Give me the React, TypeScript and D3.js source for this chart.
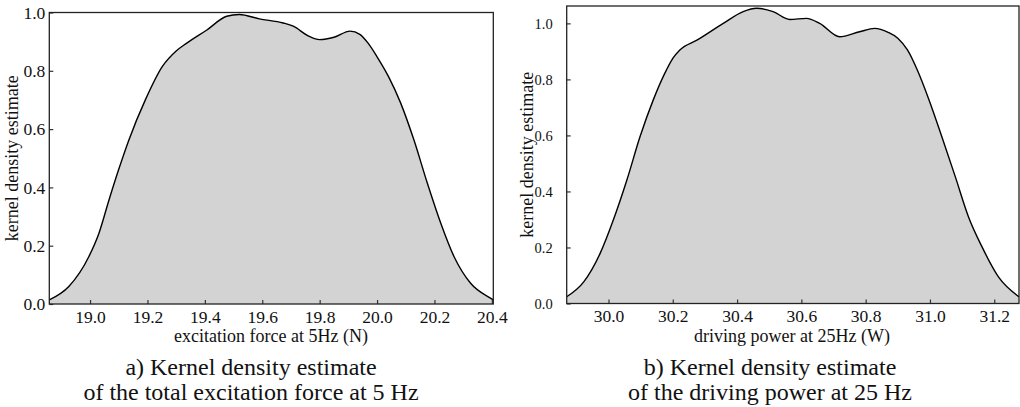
import React, { useRef, useEffect } from "react";
import * as d3 from "d3";

// panel a) total excitation force at 5 Hz
const forceX = [
  18.858, 18.926, 18.996, 19.031, 19.066, 19.1, 19.135, 19.193, 19.252, 19.3,
  19.337, 19.407, 19.476, 19.52, 19.59, 19.673, 19.708, 19.76, 19.8, 19.85,
  19.906, 19.94, 19.97, 20.0, 20.04, 20.082, 20.128, 20.175, 20.222, 20.268,
  20.326, 20.395, 20.405,
];
const forceDensity = [
  0.014, 0.06, 0.163, 0.243, 0.357, 0.462, 0.562, 0.701, 0.815, 0.868, 0.895,
  0.94, 0.987, 0.993, 0.978, 0.964, 0.953, 0.92, 0.907, 0.915, 0.936, 0.925,
  0.893, 0.848, 0.78, 0.69, 0.564, 0.415, 0.277, 0.163, 0.071, 0.02, 0.014,
];
const forceTicks = [19.0, 19.2, 19.4, 19.6, 19.8, 20.0, 20.2, 20.4];

// panel b) driving power at 25 Hz
const powerX = [
  29.87, 29.923, 29.974, 30.015, 30.057, 30.098, 30.139, 30.18, 30.2, 30.222,
  30.275, 30.357, 30.419, 30.461, 30.512, 30.564, 30.616, 30.657, 30.719,
  30.781, 30.828, 30.87, 30.9, 30.93, 30.96, 30.996, 31.037, 31.079, 31.12,
  31.162, 31.213, 31.277,
];
const powerDensity = [
  0.024, 0.077, 0.179, 0.298, 0.44, 0.595, 0.726, 0.833, 0.875, 0.905, 0.94,
  1.0, 1.042, 1.054, 1.042, 1.014, 1.018, 1.0, 0.952, 0.97, 0.982, 0.968,
  0.947, 0.905, 0.835, 0.73, 0.595, 0.452, 0.309, 0.202, 0.095, 0.024,
];
const powerTicks = [30.0, 30.2, 30.4, 30.6, 30.8, 31.0, 31.2];

const densityTicks = [0.0, 0.2, 0.4, 0.6, 0.8, 1.0];

const FONT = "'Liberation Serif', 'Times New Roman', serif";

function drawPanel(svg, p) {
  const x = d3.scaleLinear().domain(p.xDomain).range([p.left, p.right]);
  const y = d3.scaleLinear().domain(p.yDomain).range([p.bottom, p.top]);
  const pts = p.xs.map((v, i) => [v, p.ys[i]]);

  const g = svg.append("g");

  // filled density
  g.append("path")
    .datum(pts)
    .attr("fill", "#d3d3d3")
    .attr(
      "d",
      d3
        .area()
        .x((d) => x(d[0]))
        .y0(y(0))
        .y1((d) => y(d[1]))
        .curve(d3.curveMonotoneX)
    );
  g.append("path")
    .datum(pts)
    .attr("fill", "none")
    .attr("stroke", "#000")
    .attr("stroke-width", 1.4)
    .attr(
      "d",
      d3
        .line()
        .x((d) => x(d[0]))
        .y((d) => y(d[1]))
        .curve(d3.curveMonotoneX)
    );

  // axes, ticks pointing inwards
  const xa = g
    .append("g")
    .attr("transform", `translate(0,${p.bottom})`)
    .call(
      d3
        .axisBottom(x)
        .tickValues(p.xTicks)
        .tickFormat(d3.format(".1f"))
        .tickSizeInner(-4)
        .tickSizeOuter(0)
        .tickPadding(6.5)
    );
  const ya = g
    .append("g")
    .attr("transform", `translate(${p.left},0)`)
    .call(
      d3
        .axisLeft(y)
        .tickValues(densityTicks)
        .tickFormat(d3.format(".1f"))
        .tickSizeInner(-4)
        .tickSizeOuter(0)
        .tickPadding(p.yPad)
    );
  [xa, ya].forEach((a) => {
    a.select(".domain").remove();
    a.selectAll("line").attr("stroke", "#333").attr("stroke-width", 1.2);
    a.selectAll("text").attr("font-family", FONT).attr("fill", "#111");
  });
  xa.selectAll("text").attr("font-size", 17.5);
  ya.selectAll("text").attr("font-size", p.yFont);

  // frame
  g.append("rect")
    .attr("x", p.left)
    .attr("y", p.top)
    .attr("width", p.right - p.left)
    .attr("height", p.bottom - p.top)
    .attr("fill", "none")
    .attr("stroke", "#222")
    .attr("stroke-width", 1.3);

  // axis titles
  g.append("text")
    .attr("x", p.xTitleX)
    .attr("y", 341.5)
    .attr("text-anchor", "middle")
    .attr("font-family", FONT)
    .attr("font-size", 18)
    .attr("fill", "#111")
    .text(p.xTitle);
  g.append("text")
    .attr("transform", `translate(${p.yTitleX},${(p.top + p.bottom) / 2}) rotate(-90)`)
    .attr("text-anchor", "middle")
    .attr("font-family", FONT)
    .attr("font-size", 18)
    .attr("fill", "#111")
    .text("kernel density estimate");

  // caption
  p.caption.forEach((line, i) => {
    g.append("text")
      .attr("x", p.captionX)
      .attr("y", 375 + i * 24.5)
      .attr("text-anchor", "middle")
      .attr("font-family", FONT)
      .attr("font-size", 24)
      .attr("fill", "#111")
      .text(line);
  });
}

export default function App() {
  const svgRef = useRef(null);

  useEffect(() => {
    const svg = d3.select(svgRef.current);
    svg.selectAll("*").remove();

    drawPanel(svg, {
      xs: forceX,
      ys: forceDensity,
      xTicks: forceTicks,
      xDomain: [18.858, 20.405],
      yDomain: [0, 1.0],
      left: 49.3,
      right: 493.3,
      top: 12.5,
      bottom: 304,
      yPad: 4,
      yFont: 17.5,
      xTitle: "excitation force at 5Hz (N)",
      xTitleX: 271,
      yTitleX: 18,
      caption: ["a) Kernel density estimate", "of the total excitation force at 5 Hz"],
      captionX: 251,
    });

    drawPanel(svg, {
      xs: powerX,
      ys: powerDensity,
      xTicks: powerTicks,
      xDomain: [29.87, 31.277],
      yDomain: [0, 1.062],
      left: 566.7,
      right: 1019,
      top: 6,
      bottom: 303.5,
      yPad: 14,
      yFont: 14.5,
      xTitle: "driving power at 25Hz (W)",
      xTitleX: 792,
      yTitleX: 533,
      caption: ["b) Kernel density estimate", "of the driving power at 25 Hz"],
      captionX: 770,
    });

    return () => {
      svg.selectAll("*").remove();
    };
  }, []);

  return (
    <svg
      ref={svgRef}
      width={1020}
      height={407}
      style={{ position: "absolute", left: 0, top: 0, background: "#fff" }}
    />
  );
}
